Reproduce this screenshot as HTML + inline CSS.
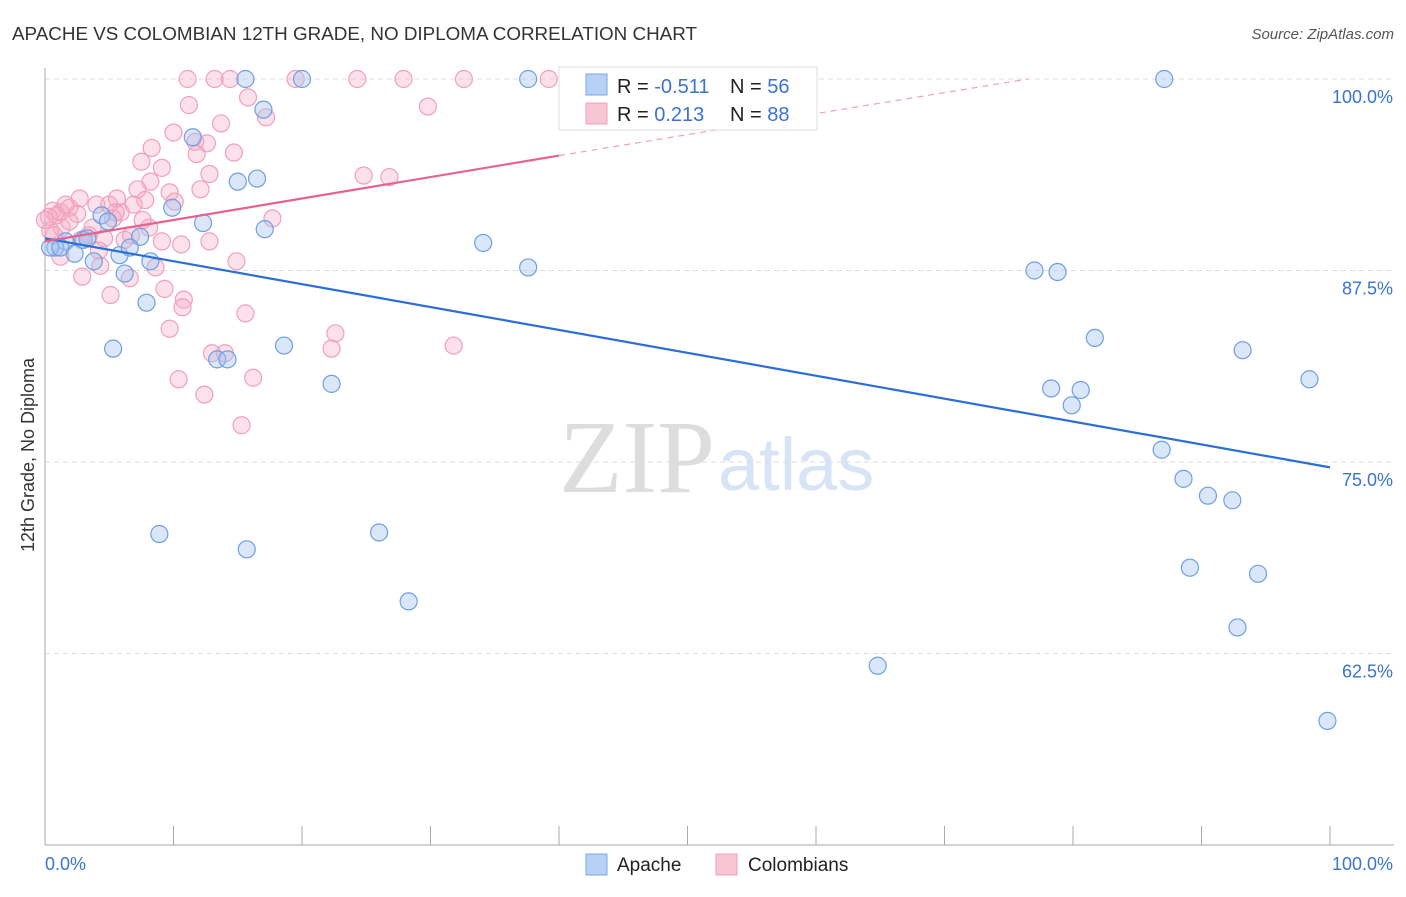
<!DOCTYPE html>
<html><head><meta charset="utf-8"><style>
body{margin:0;background:#fff;font-family:"Liberation Sans",sans-serif;}
</style></head><body>
<svg id="c" width="1406" height="892" xmlns="http://www.w3.org/2000/svg">
<text x="12" y="40" font-size="18" fill="#333" textLength="685" lengthAdjust="spacingAndGlyphs">APACHE VS COLOMBIAN 12TH GRADE, NO DIPLOMA CORRELATION CHART</text>
<text x="1394" y="39" font-size="15" fill="#555" font-style="italic" text-anchor="end">Source: ZipAtlas.com</text>
<text x="715" y="492" font-size="104" fill="#ddd" text-anchor="end" font-family="Liberation Serif,serif">ZIP</text>
<text x="718" y="490" font-size="74" fill="#d6e4f5">atlas</text>
<text transform="translate(34,455) rotate(-90)" font-size="18" fill="#333" text-anchor="middle">12th Grade, No Diploma</text>
<g id="grid"></g><g id="axes"></g><g id="pts"></g><g id="lines"></g>
<g>
<rect x="559" y="67" width="258" height="63" fill="#fff" stroke="#ddd"/>
<rect x="586" y="74" width="21" height="21" fill="#b7d0f5" stroke="#7aa8e8"/>
<rect x="586" y="103" width="21" height="21" fill="#f8c5d5" stroke="#f0a0bc"/>
<text x="617" y="93" font-size="20" fill="#222">R = <tspan fill="#3b73d0">-0.511</tspan></text>
<text x="730" y="93" font-size="20" fill="#222">N = <tspan fill="#3b73d0">56</tspan></text>
<text x="617" y="121" font-size="20" fill="#222">R = <tspan fill="#3b73d0"> 0.213</tspan></text>
<text x="730" y="121" font-size="20" fill="#222">N = <tspan fill="#3b73d0">88</tspan></text>
</g>
<g>
<rect x="586" y="854" width="21" height="21" fill="#b7d0f5" stroke="#7aa8e8"/>
<text x="617" y="871" font-size="19" fill="#222">Apache</text>
<rect x="716" y="854" width="21" height="21" fill="#f8c5d5" stroke="#f0a0bc"/>
<text x="748" y="871" font-size="19" fill="#222">Colombians</text>
</g>
</svg>
<script>
const yTicks=[100,87.5,75,62.5];
const yTickLabels=["100.0%","87.5%","75.0%","62.5%"];
const apacheX=[15.6,20.0,37.6,87.1,17.0,11.5,15.0,16.5,9.9,12.3,17.1,4.4,4.9,7.4,3.0,1.6,0.8,2.3,3.8,5.8,6.6,8.2,6.2,7.9,5.3,13.4,14.2,18.6,22.3,34.1,37.6,77.0,78.8,81.7,93.2,98.4,78.3,80.6,79.9,86.9,88.6,90.5,92.4,8.9,15.7,26.0,28.3,89.1,94.4,92.8,64.8,99.8,0.4,3.3,1.2];
const apacheY=[100,100,100,100,98.0,96.2,93.3,93.5,91.6,90.6,90.2,91.1,90.7,89.7,89.5,89.4,89.0,88.6,88.1,88.5,89.0,88.1,87.3,85.4,82.4,81.7,81.7,82.6,80.1,89.3,87.7,87.5,87.4,83.1,82.3,80.4,79.8,79.7,78.7,75.8,73.9,72.8,72.5,70.3,69.3,70.4,65.9,68.1,67.7,64.2,61.7,58.1,89.0,89.6,89.0];
const colX=[11.1,13.2,14.4,19.5,24.3,27.9,32.6,39.2,11.2,15.8,29.8,17.2,13.7,10.0,11.7,12.6,14.7,8.3,7.5,9.1,11.8,24.8,26.8,8.2,12.8,7.2,9.7,12.1,5.6,7.8,10.1,2.7,4.0,0.6,1.2,1.9,0.3,0.9,2.5,5.0,5.9,6.9,5.3,17.7,8.1,6.7,4.6,3.4,1.3,0.4,2.8,9.1,10.6,12.8,6.2,4.2,1.2,0.7,4.3,8.6,14.9,2.9,6.6,9.3,5.1,10.8,10.7,9.7,15.6,22.6,22.3,31.8,13.0,14.0,10.4,16.2,12.4,15.3,1.9,3.7,7.6,1.6,5.5,0.0];
const colY=[100,100,100,100,100,100,100,100,98.3,98.8,98.2,97.5,97.1,96.5,95.9,95.8,95.2,95.5,94.6,94.2,95.1,93.7,93.6,93.3,93.8,92.8,92.6,92.8,92.2,92.1,92.0,92.2,91.8,91.4,91.3,91.6,91.0,91.1,91.2,91.8,91.3,91.8,90.9,90.9,90.3,89.8,89.6,89.8,90.3,90.1,89.5,89.4,89.2,89.4,89.5,88.8,88.4,89.8,87.8,87.7,88.1,87.1,87.0,86.3,85.9,85.6,85.1,83.7,84.7,83.4,82.4,82.6,82.1,82.1,80.4,80.5,79.4,77.4,90.7,90.3,90.8,91.8,91.3,90.8];
const apacheTrend=[[0,89.6],[100,74.65]];
const colTrendSolid=[[0,89.4],[40,95.0]];
const colTrendDash=[[40,95.0],[76.5,100]];
const NS="http://www.w3.org/2000/svg";
const X=v=>45+v*12.85, Y=v=>79+(100-v)*15.32;
function mk(t,a,p){const e=document.createElementNS(NS,t);for(const k in a)e.setAttribute(k,a[k]);document.getElementById(p).appendChild(e);return e;}
yTicks.forEach((t,i)=>{
 const g=mk('line',{x1:45,x2:1394,y1:Y(t),y2:Y(t),stroke:'#ddd','stroke-dasharray':'5,4'},'grid');
 
 
 const l=mk('text',{x:1393,y:Y(t)+24,'font-size':18,fill:'#3b73d0','text-anchor':'end'},'axes');
 l.textContent=yTickLabels[i];
 
 
});
mk('line',{x1:45,x2:45,y1:68,y2:845,stroke:'#aaa'},'axes');
const xa=mk('line',{x1:45,x2:1394,y1:845,y2:845,stroke:'#aaa'},'axes');


for(let i=0;i<=10;i++){mk('line',{x1:X(i*10),x2:X(i*10),y1:826,y2:845,stroke:'#aaa'},'axes');}
const x0=mk('text',{x:45,y:870,'font-size':18,fill:'#3b73d0'},'axes');x0.textContent='0.0%';


const x1=mk('text',{x:1393,y:870,'font-size':18,fill:'#3b73d0','text-anchor':'end'},'axes');x1.textContent='100.0%';


colX.forEach((v,i)=>{const c=mk('circle',{cx:X(v),cy:Y(colY[i]),r:8.5,fill:'rgba(246,170,196,0.35)',stroke:'#f0a0bc','stroke-width':1.2},'pts');
 
 });
apacheX.forEach((v,i)=>{const c=mk('circle',{cx:X(v),cy:Y(apacheY[i]),r:8.5,fill:'rgba(160,195,240,0.4)',stroke:'#6f9fe3','stroke-width':1.2},'pts');
 
 });
const a=mk('line',{x1:X(apacheTrend[0][0]),y1:Y(apacheTrend[0][1]),x2:X(apacheTrend[1][0]),y2:Y(apacheTrend[1][1]),stroke:'#2a6fd6','stroke-width':2.2},'lines');


const b=mk('line',{x1:X(colTrendSolid[0][0]),y1:Y(colTrendSolid[0][1]),x2:X(colTrendSolid[1][0]),y2:Y(colTrendSolid[1][1]),stroke:'#e8608e','stroke-width':2.2},'lines');


const d=mk('line',{x1:X(colTrendDash[0][0]),y1:Y(colTrendDash[0][1]),x2:X(colTrendDash[1][0]),y2:Y(colTrendDash[1][1]),stroke:'#f0a0bc','stroke-width':1.2,'stroke-dasharray':'6,5'},'lines');


</script>
</body></html>
